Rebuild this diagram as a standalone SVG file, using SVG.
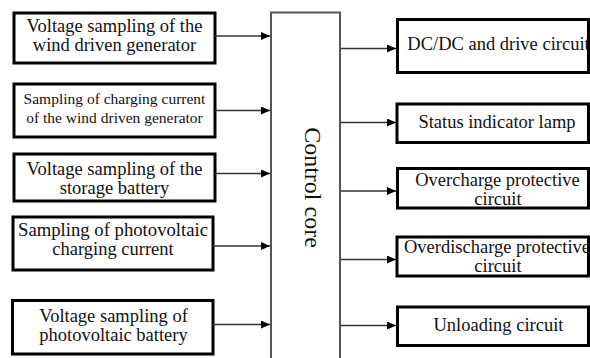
<svg xmlns="http://www.w3.org/2000/svg" width="590" height="358" viewBox="0 0 590 358">
<style>
.box{fill:#fff;stroke:#000;stroke-width:3}
.core{fill:#fff;stroke:#555;stroke-width:2}
.t{font-family:"Liberation Serif","Times New Roman",serif;font-size:18.5px;fill:#111;text-anchor:middle}
.s{font-size:15.5px}
.c{stroke:#333;stroke-width:1.4;fill:none;marker-end:url(#ah)}
</style>
<defs>
<marker id="ah" markerWidth="10" markerHeight="8" refX="9" refY="4" orient="auto" markerUnits="userSpaceOnUse">
<path d="M0,0 L9,4 L0,8 Z" fill="#000"/>
</marker>
</defs>
<rect width="590" height="358" fill="#fff"/>
<g id="control-core">
<path class="core" d="M271,362 V12.5 H340 V362"/>
<text class="t" style="font-size:24px" transform="translate(305,187.5) rotate(90)">Control core</text>
</g>
<g id="in1"><rect class="box" x="14" y="13" width="201" height="50"/>
<text class="t" x="114.5" y="31.5">Voltage sampling of the</text><text class="t" x="114.5" y="50.5">wind driven generator</text></g>
<g id="in2"><rect class="box" x="14" y="84" width="201" height="53"/>
<text class="t s" x="114.5" y="104">Sampling of charging current</text><text class="t s" x="114.5" y="122.5">of the wind driven generator</text></g>
<g id="in3"><rect class="box" x="14" y="154" width="201" height="47"/>
<text class="t" x="114.5" y="175">Voltage sampling of the</text><text class="t" x="114.5" y="193.5">storage battery</text></g>
<g id="in4"><rect class="box" x="13" y="217" width="200" height="53"/>
<text class="t" x="113" y="236" textLength="190" lengthAdjust="spacingAndGlyphs">Sampling of photovoltaic</text><text class="t" x="113" y="255">charging current</text></g>
<g id="in5"><rect class="box" x="12.5" y="300.5" width="200.5" height="53.5"/>
<text class="t" x="113.5" y="321.5">Voltage sampling of</text><text class="t" x="113.5" y="341">photovoltaic battery</text></g>
<g id="out1"><rect class="box" x="397.5" y="19.5" width="191" height="53"/>
<text class="t" x="498.5" y="49.5">DC/DC and drive circuit</text></g>
<g id="out2"><rect class="box" x="397" y="104" width="191.5" height="38.5"/>
<text class="t" x="497" y="128">Status indicator lamp</text></g>
<g id="out3"><rect class="box" x="397.5" y="168.5" width="191" height="39.5"/>
<text class="t" x="497.5" y="185.5">Overcharge protective</text><text class="t" x="498" y="204.5">circuit</text></g>
<g id="out4"><rect class="box" x="397" y="237" width="191.5" height="39"/>
<text class="t" x="497" y="252.5">Overdischarge protective</text><text class="t" x="498" y="271.5">circuit</text></g>
<g id="out5"><rect class="box" x="397.5" y="307" width="191" height="38.5"/>
<text class="t" x="498.5" y="331">Unloading circuit</text></g>
<g id="connectors">
<path class="c" d="M215,36 H270"/>
<path class="c" d="M215,110.5 H270"/>
<path class="c" d="M215,173.5 H270"/>
<path class="c" d="M213,246 H270"/>
<path class="c" d="M213,324.5 H270"/>
<path class="c" d="M341,48.5 H396"/>
<path class="c" d="M341,122.5 H396"/>
<path class="c" d="M341,191 H396"/>
<path class="c" d="M341,259.5 H396"/>
<path class="c" d="M341,325.5 H396"/>
</g>
</svg>
